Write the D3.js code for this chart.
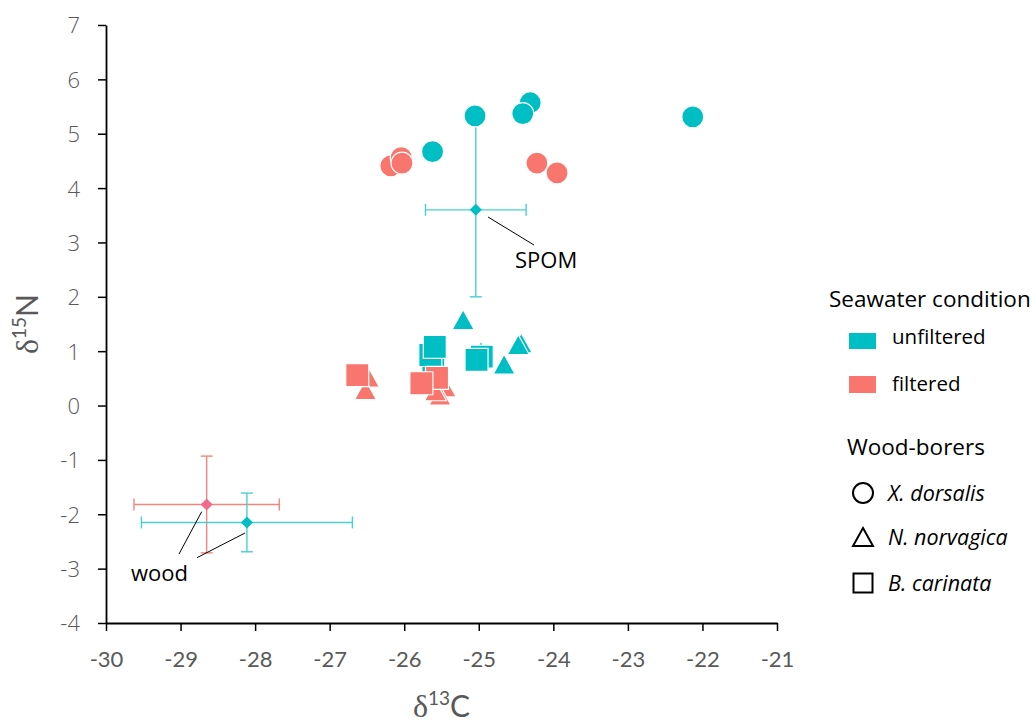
<!DOCTYPE html>
<html>
<head>
<meta charset="utf-8">
<script src="https://cdn.jsdelivr.net/npm/d3@7"></script>
<style>
  body { margin: 0; background: #fff; }
  svg { display: block; }
</style>
</head>
<body>
<svg id="chart" width="1036" height="724"></svg>
<script>
// Data: [d13C, d15N]
const unfilteredCircle = [[-25.05, 5.33], [-24.31, 5.57], [-24.41, 5.37], [-22.13, 5.31], [-25.62, 4.67]];
const unfilteredTriangle = [[-25.21, 1.58], [-24.43, 1.15], [-24.47, 1.12], [-24.66, 0.76], [-24.97, 1.00]];
const unfilteredSquare = [[-24.96, 0.90], [-25.03, 0.84], [-25.61, 0.73], [-25.65, 0.93], [-25.59, 1.08]];
const filteredCircle = [[-26.18, 4.41], [-26.04, 4.56], [-26.03, 4.46], [-24.22, 4.46], [-23.95, 4.28]];
const filteredTriangle = [[-26.48, 0.52], [-26.52, 0.29], [-25.45, 0.34], [-25.52, 0.19], [-25.58, 0.27]];
const filteredSquare = [[-25.56, 0.51], [-25.77, 0.41], [-26.63, 0.56]];

// Sources: mean +/- sd
const sourceName = ["SPOM", "wood", "wood"];
const sourceCond = ["unfiltered", "filtered", "unfiltered"];
const sourceC = [-25.04, -28.65, -28.11];
const sourceN = [3.60, -1.82, -2.15];
const sourceSdC = [0.675, 0.975, 1.415];
const sourceSdN = [1.60, 0.89, 0.54];

const xTicks = [-30, -29, -28, -27, -26, -25, -24, -23, -22, -21];
const yTicks = [-4, -3, -2, -1, 0, 1, 2, 3, 4, 5, 6, 7];

const cyan = "#00BFC4";
const red = "#F8766D";

const svg = d3.select("#chart");
const x = d3.scaleLinear().domain([-30, -21]).range([106, 777]);
const y = d3.scaleLinear().domain([-4, 7]).range([623, 25]);

// Axes
const xAxis = svg.append("g")
    .attr("transform", `translate(0,${y(-4)})`)
    .call(d3.axisBottom(x).tickValues(xTicks).tickSize(8).tickSizeOuter(0).tickFormat(d => String(d)));
xAxis.selectAll("text")
    .attr("y", 44).attr("dy", 0)
    .style("font-family", "Lato, 'Liberation Sans'")
    .style("font-size", "22px")
    .style("fill", "#595959");

const yAxis = svg.append("g")
    .attr("transform", `translate(${x(-30)},0)`)
    .call(d3.axisLeft(y).tickValues(yTicks).tickSize(8).tickSizeOuter(0).tickFormat(d => String(d)));
yAxis.selectAll("text")
    .attr("x", -26).attr("dy", "0.36em")
    .style("font-family", "'Open Sans', sans-serif")
    .style("font-weight", 300)
    .style("font-size", "22px")
    .style("fill", "#595959");

svg.selectAll(".domain").attr("stroke", "#000").attr("stroke-width", 1.8);
svg.selectAll(".tick line").attr("stroke", "#000").attr("stroke-width", 1.5);

// Axis titles
const xTitle = svg.append("text")
    .attr("x", (x(-30) + x(-21)) / 2)
    .attr("y", 717)
    .attr("text-anchor", "middle")
    .style("fill", "#595959");
xTitle.append("tspan").text("δ").style("font-family", "'Liberation Serif', serif").style("font-size", "32px");
xTitle.append("tspan").text("13").attr("dy", -12).style("font-family", "Lato").style("font-size", "19px");
xTitle.append("tspan").text("C").attr("dy", 12).style("font-family", "Lato").style("font-size", "30px");

const yTitle = svg.append("text")
    .attr("transform", `translate(38,${(y(-4) + y(7)) / 2}) rotate(-90)`)
    .attr("text-anchor", "middle")
    .style("fill", "#595959");
yTitle.append("tspan").text("δ").style("font-family", "'Liberation Serif', serif").style("font-size", "32px");
yTitle.append("tspan").text("15").attr("dy", -12).style("font-family", "Lato").style("font-size", "19px");
yTitle.append("tspan").text("N").attr("dy", 12).style("font-family", "Lato").style("font-size", "30px");

// Marker shapes
const shapePath = (shape, s) => {
    if (shape === "circle") {
        const r = s / 2;
        return `M${-r},0A${r},${r} 0 1,0 ${r},0A${r},${r} 0 1,0 ${-r},0Z`;
    }
    if (shape === "triangle") {
        const w = s / 2, h = s * 0.45;
        return `M0,${-h}L${w},${h}L${-w},${h}Z`;
    }
    const a = s / 2;
    return `M${-a},${-a}H${a}V${a}H${-a}Z`;
};

// Error bars of sources
const src = d3.range(sourceName.length);
const bars = svg.append("g").attr("stroke-width", 1.4).attr("fill", "none");
src.forEach(i => {
    const col = sourceCond[i] === "unfiltered" ? "#47CFD3" : "#F4857D";
    const cx = x(sourceC[i]), cy = y(sourceN[i]);
    const x0 = x(sourceC[i] - sourceSdC[i]), x1 = x(sourceC[i] + sourceSdC[i]);
    const y0 = y(sourceN[i] - sourceSdN[i]), y1 = y(sourceN[i] + sourceSdN[i]);
    const g = bars.append("g").attr("stroke", col);
    g.append("line").attr("x1", x0).attr("x2", x1).attr("y1", cy).attr("y2", cy);
    g.append("line").attr("x1", x0).attr("x2", x0).attr("y1", cy - 6).attr("y2", cy + 6);
    g.append("line").attr("x1", x1).attr("x2", x1).attr("y1", cy - 6).attr("y2", cy + 6);
    g.append("line").attr("x1", cx).attr("x2", cx).attr("y1", y0).attr("y2", y1);
    g.append("line").attr("x1", cx - 6).attr("x2", cx + 6).attr("y1", y0).attr("y2", y0);
    g.append("line").attr("x1", cx - 6).attr("x2", cx + 6).attr("y1", y1).attr("y2", y1);
    svg.append("path")
        .attr("d", "M0,-6L6,0L0,6L-6,0Z")
        .attr("transform", `translate(${cx},${cy})`)
        .attr("fill", sourceCond[i] === "unfiltered" ? cyan : "#F06C8E");
});

// Data points
const groups = [
    [unfilteredCircle, "circle", cyan, 22],
    [unfilteredTriangle, "triangle", cyan, 22],
    [unfilteredSquare, "square", cyan, 23],
    [filteredCircle, "circle", red, 22],
    [filteredTriangle, "triangle", red, 22],
    [filteredSquare, "square", red, 23]
];
groups.forEach(([pts, shape, col, size]) => {
    svg.append("g")
        .selectAll("path")
        .data(pts)
        .join("path")
        .attr("d", shapePath(shape, size))
        .attr("transform", d => `translate(${x(d[0])},${y(d[1])})`)
        .attr("fill", col)
        .attr("stroke", "#fff")
        .attr("stroke-width", 1.2);
});

// Source labels and leader lines
const labels = svg.append("g").style("font-family", "'Open Sans', sans-serif").style("font-size", "22px");
labels.append("line").attr("x1", 488).attr("y1", 217).attr("x2", 534).attr("y2", 245).attr("stroke", "#000");
labels.append("text").attr("x", 515).attr("y", 268).text(sourceName[0]);
labels.append("line").attr("x1", 201.7).attr("y1", 511.7).attr("x2", 179).attr("y2", 554).attr("stroke", "#000");
labels.append("line").attr("x1", 245).attr("y1", 533).attr("x2", 197).attr("y2", 557.7).attr("stroke", "#000");
labels.append("text").attr("x", 131).attr("y", 581).text(sourceName[1]);

// Legend
const leg = svg.append("g").style("font-family", "'Open Sans', sans-serif").style("fill", "#000");
leg.append("text").attr("x", 829).attr("y", 307).style("font-size", "22.5px").text("Seawater condition");
leg.append("rect").attr("x", 849).attr("y", 333).attr("width", 27).attr("height", 16).attr("fill", cyan);
leg.append("text").attr("x", 892).attr("y", 344).style("font-size", "20.5px").text("unfiltered");
leg.append("rect").attr("x", 849).attr("y", 376).attr("width", 27).attr("height", 17).attr("fill", red);
leg.append("text").attr("x", 892).attr("y", 391).style("font-size", "20.5px").text("filtered");
leg.append("text").attr("x", 847).attr("y", 455).style("font-size", "22.5px").text("Wood-borers");

const legShapes = [["circle", "X. dorsalis", 493], ["triangle", "N. norvagica", 537], ["square", "B. carinata", 583]];
legShapes.forEach(([shape, name, cy]) => {
    leg.append("path")
        .attr("d", shapePath(shape, shape === "square" ? 19 : 20))
        .attr("transform", `translate(863,${cy})`)
        .attr("fill", "none")
        .attr("stroke", "#000")
        .attr("stroke-width", 2);
    leg.append("text")
        .attr("x", 888).attr("y", cy + 8)
        .style("font-size", "21.5px")
        .style("font-style", "italic")
        .text(name);
});
</script>
</body>
</html>
